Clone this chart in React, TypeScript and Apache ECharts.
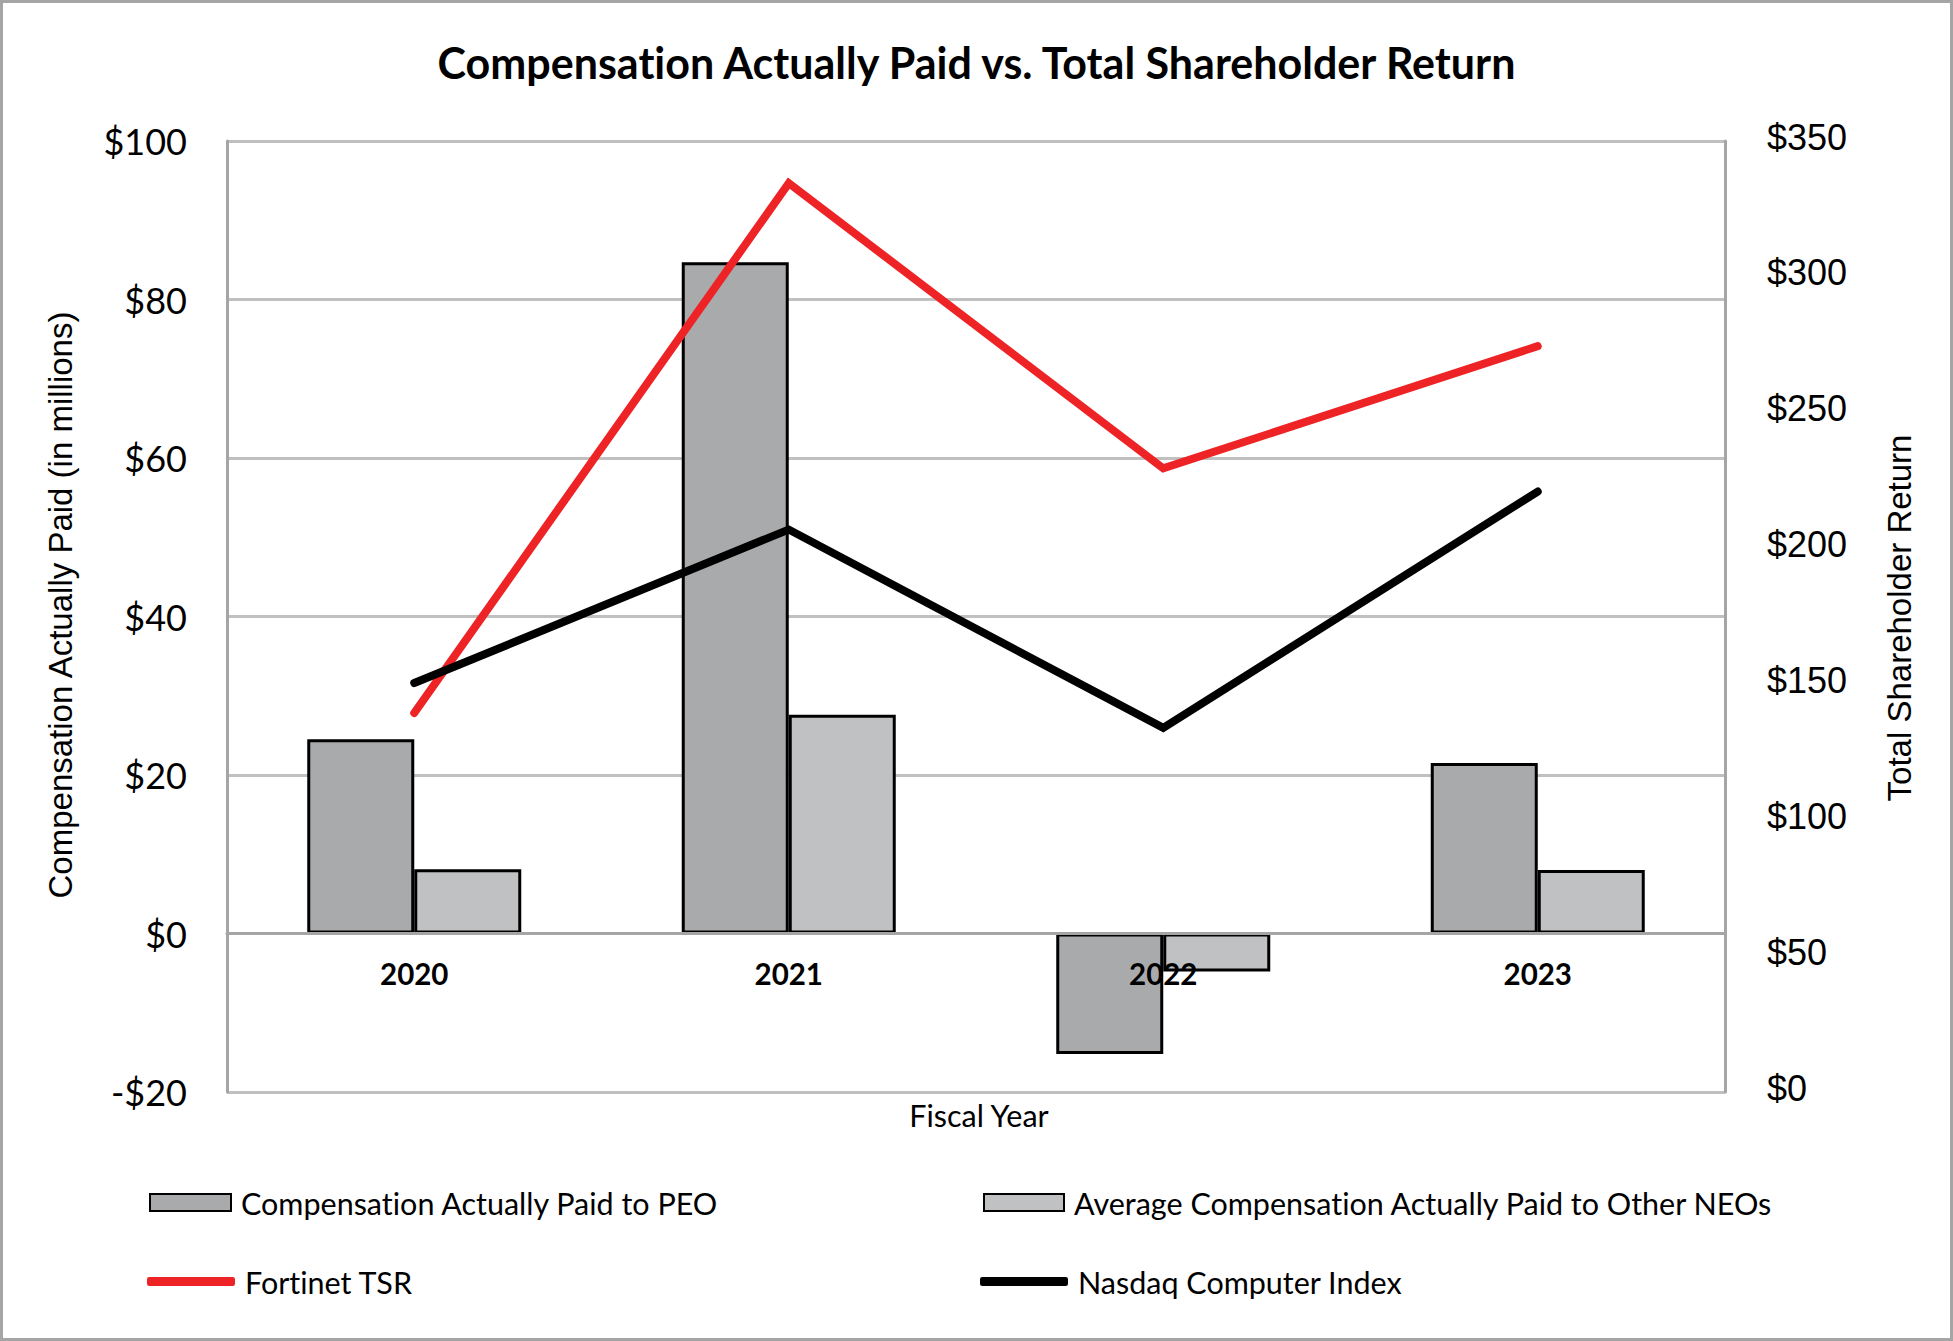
import React, { useEffect, useRef } from "react";
import * as echarts from "echarts";

const categories = ["2020", "2021", "2022", "2023"];
const peoValues = [24.5, 84.7, -15.2, 21.5];
const neoValues = [8.1, 27.6, -4.8, 8.0];
const fortinetTsr = [139.5, 334.5, 229.5, 274.5];
const nasdaqIndex = [150.5, 207, 134, 221];
const leftTicks = { min: -20, max: 100, interval: 20 };
const rightTicks = { min: 0, max: 350, interval: 50 };

const CAL = "Lato, 'Open Sans', sans-serif";
const ARIAL = "'Liberation Sans', Arial, sans-serif";

const GRID = { left: 227, right: 228, top: 141, bottom: 249 };
const PLOT_H = 1341 - GRID.top - GRID.bottom;
// distance from the plot bottom up to the value 0 of the left axis
const ZERO_OFFSET = (PLOT_H * (0 - leftTicks.min)) / (leftTicks.max - leftTicks.min);

export default function App() {
  const ref = useRef<HTMLDivElement>(null);
  useEffect(() => {
    document.body.style.margin = "0";
    const chart = echarts.init(ref.current!, null, { renderer: "svg" });
    const legendText = { fontFamily: CAL, fontSize: 30.5, color: "#000", padding: [0, 0, 0, 5] };
    const legendBase = { padding: 0, textStyle: legendText };
    chart.setOption({
      animation: false,
      backgroundColor: "#fff",
      title: {
        text: "Compensation Actually Paid vs. Total Shareholder Return",
        left: "center",
        top: 36,
        textStyle: { fontFamily: CAL, fontSize: 43, fontWeight: "bold", color: "#000" },
      },
      grid: { ...GRID, containLabel: false },
      xAxis: {
        type: "category",
        data: categories,
        z: 5,
        offset: -ZERO_OFFSET,
        axisLine: { show: true, onZero: false, lineStyle: { color: "#a5a5a5", width: 3 } },
        axisTick: { show: false },
        axisLabel: { fontFamily: CAL, fontSize: 29.5, fontWeight: "bold", color: "#000", margin: 25 },
      },
      yAxis: [
        {
          type: "value",
          ...leftTicks,
          axisLine: { show: true, lineStyle: { color: "#a5a5a5", width: 3 } },
          axisTick: { show: false },
          splitLine: { show: true, lineStyle: { color: "#c0c0c0", width: 3 } },
          axisLabel: {
            fontFamily: CAL,
            fontSize: 36,
            color: "#000",
            margin: 40,
            formatter: (v: number) => (v < 0 ? "-$" + Math.abs(v) : "$" + v),
          },
        },
        {
          type: "value",
          ...rightTicks,
          position: "right",
          axisLine: { show: true, lineStyle: { color: "#a5a5a5", width: 3 } },
          axisTick: { show: false },
          splitLine: { show: false },
          axisLabel: {
            fontFamily: ARIAL,
            fontSize: 36,
            color: "#000",
            margin: 42,
            formatter: (v: number) => "{r|$" + v + "}",
            rich: {
              r: { fontFamily: ARIAL, fontSize: 36, color: "#000", padding: [0, 0, 8, 0] },
            },
          },
        },
      ],
      legend: [
        {
          ...legendBase,
          data: ["Compensation Actually Paid to PEO"],
          left: 149,
          top: 1187,
          icon: "rect",
          itemWidth: 81,
          itemHeight: 17,
        },
        {
          ...legendBase,
          data: ["Average Compensation Actually Paid to Other NEOs"],
          left: 983,
          top: 1187,
          icon: "rect",
          itemWidth: 80,
          itemHeight: 17,
        },
        {
          ...legendBase,
          data: ["Fortinet TSR"],
          left: 147,
          top: 1266,
          icon: "roundRect",
          itemWidth: 88,
          itemHeight: 9,
          itemStyle: { borderWidth: 0 },
        },
        {
          ...legendBase,
          data: ["Nasdaq Computer Index"],
          left: 980,
          top: 1266,
          icon: "roundRect",
          itemWidth: 88,
          itemHeight: 9,
          itemStyle: { borderWidth: 0 },
        },
      ],
      graphic: [
        {
          type: "rect",
          shape: { x: 1.5, y: 1.5, width: 1950, height: 1338 },
          style: { fill: "none", stroke: "#a5a5a5", lineWidth: 3 },
          silent: true,
          z: 100,
        },
        {
          type: "text",
          x: 60,
          y: 605,
          rotation: Math.PI / 2,
          style: {
            text: "Compensation Actually Paid (in millions)",
            fontFamily: ARIAL,
            fontSize: 33,
            fill: "#000",
            align: "center",
            verticalAlign: "middle",
          },
        },
        {
          type: "text",
          x: 1899,
          y: 618,
          rotation: Math.PI / 2,
          style: {
            text: "Total Shareholder Return",
            fontFamily: ARIAL,
            fontSize: 33,
            fill: "#000",
            align: "center",
            verticalAlign: "middle",
          },
        },
        {
          type: "text",
          x: 979,
          y: 1115,
          style: {
            text: "Fiscal Year",
            fontFamily: CAL,
            fontSize: 30.5,
            fill: "#000",
            align: "center",
            verticalAlign: "middle",
          },
        },
      ],
      series: [
        {
          name: "Compensation Actually Paid to PEO",
          type: "bar",
          data: peoValues,
          barWidth: 107,
          barGap: "0%",
          itemStyle: { color: "#a9aaac", borderColor: "#000", borderWidth: 3 },
        },
        {
          name: "Average Compensation Actually Paid to Other NEOs",
          type: "bar",
          data: neoValues,
          barWidth: 107,
          barGap: "0%",
          itemStyle: { color: "#c0c1c3", borderColor: "#000", borderWidth: 3 },
        },
        {
          name: "Fortinet TSR",
          type: "line",
          yAxisIndex: 1,
          data: fortinetTsr,
          symbol: "none",
          z: 6,
          lineStyle: { color: "#ee2326", width: 8, cap: "round", join: "miter" },
          itemStyle: { color: "#ee2326" },
        },
        {
          name: "Nasdaq Computer Index",
          type: "line",
          yAxisIndex: 1,
          data: nasdaqIndex,
          symbol: "none",
          z: 6,
          lineStyle: { color: "#000", width: 8, cap: "round", join: "miter" },
          itemStyle: { color: "#000" },
        },
      ],
    });
    return () => chart.dispose();
  }, []);
  return (
    <>
      <style>{"svg text{font-variant-ligatures:none !important;font-feature-settings:'liga' 0,'clig' 0 !important;}"}</style>
      <div ref={ref} style={{ width: 1953, height: 1341 }} />
    </>
  );
}
